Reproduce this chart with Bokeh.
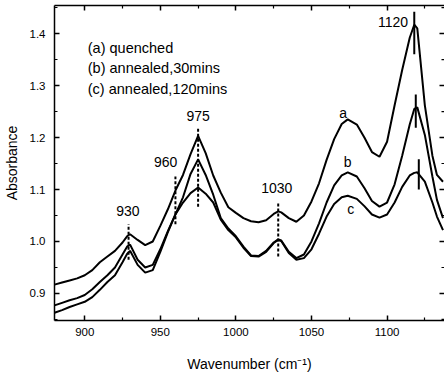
from bokeh.plotting import figure
from bokeh.models import LinearAxis, Range1d, FixedTicker, PrintfTickFormatter
from bokeh.core.properties import value
from bokeh.embed import file_html
from bokeh.resources import INLINE

# ---- data ----
wavenumber = [880, 885, 890, 895, 900, 905, 910, 915, 920, 925, 928, 930, 935, 940, 945,
              950, 955, 960, 965, 970, 975, 980, 985, 990, 995, 1000, 1005, 1010, 1015,
              1020, 1025, 1028, 1030, 1035, 1040, 1045, 1050, 1055, 1060, 1065, 1070,
              1074, 1080, 1085, 1090, 1095, 1100, 1105, 1110, 1115, 1118, 1120, 1125,
              1130, 1133, 1137]

abs_a = [0.917, 0.921, 0.925, 0.929, 0.935, 0.945, 0.960, 0.971, 0.982, 0.998, 1.010, 1.014,
         1.003, 0.993, 1.000, 1.030, 1.062, 1.098, 1.128, 1.168, 1.203, 1.170, 1.127,
         1.094, 1.066, 1.055, 1.045, 1.039, 1.037, 1.041, 1.053, 1.058, 1.056, 1.045,
         1.038, 1.050, 1.077, 1.112, 1.157, 1.197, 1.226, 1.235, 1.225, 1.200, 1.172,
         1.163, 1.192, 1.262, 1.330, 1.392, 1.417, 1.410, 1.262, 1.165, 1.128, 1.115]

abs_b = [0.877, 0.882, 0.887, 0.891, 0.897, 0.908, 0.922, 0.935, 0.950, 0.975, 0.990, 0.994,
         0.965, 0.950, 0.955, 0.985, 1.020, 1.052, 1.085, 1.130, 1.158, 1.128, 1.090,
         1.045, 1.025, 1.010, 0.990, 0.973, 0.972, 0.982, 0.998, 1.004, 1.002, 0.980,
         0.968, 0.975, 1.000, 1.035, 1.075, 1.108, 1.127, 1.133, 1.125, 1.103, 1.078,
         1.067, 1.075, 1.110, 1.165, 1.225, 1.255, 1.258, 1.205, 1.125, 1.080, 1.045]

abs_c = [0.863, 0.868, 0.874, 0.879, 0.884, 0.893, 0.907, 0.922, 0.935, 0.960, 0.976, 0.982,
         0.955, 0.940, 0.945, 0.980, 1.018, 1.052, 1.075, 1.093, 1.104, 1.092, 1.075,
         1.042, 1.022, 1.008, 0.988, 0.972, 0.971, 0.980, 0.997, 1.003, 1.001, 0.978,
         0.965, 0.968, 0.985, 1.015, 1.048, 1.072, 1.085, 1.088, 1.082, 1.068, 1.052,
         1.046, 1.052, 1.075, 1.105, 1.127, 1.132, 1.133, 1.115, 1.075, 1.048, 1.022]

x_ticks = [900, 950, 1000, 1050, 1100]
x_minor = [875, 925, 975, 1025, 1075, 1125]
y_ticks = [0.9, 1.0, 1.1, 1.2, 1.3, 1.4]
y_minor = [0.85, 0.95, 1.05, 1.15, 1.25, 1.35, 1.45]

peak_labels = ["930", "960", "975", "1030", "1120"]
peak_label_x = [928.5, 953.5, 975, 1027, 1104]
peak_label_y = [1.058, 1.152, 1.242, 1.102, 1.423]

dashed_x = [929, 960, 975, 1028]
dashed_y0 = [0.965, 1.033, 1.067, 0.971]
dashed_y1 = [1.033, 1.125, 1.219, 1.077]

solid_x = [1118, 1119, 1121]
solid_y0 = [1.360, 1.219, 1.100]
solid_y1 = [1.442, 1.283, 1.158]

curve_names = ["a", "b", "c"]
curve_name_x = [1071, 1074, 1076]
curve_name_y = [1.248, 1.152, 1.062]

legend_lines = ["(a) quenched", "(b) annealed,30mins", "(c) annealed,120mins"]
legend_y = [1.373, 1.333, 1.293]

FONT = "Liberation Sans"
X0, X1 = 880, 1138
Y0, Y1 = 0.848, 1.454
W, H = 444, 381
BL, BR, BT, BB = 54, 0, 5, 61

p = figure(width=W, height=H, x_range=Range1d(X0, X1), y_range=Range1d(Y0, Y1),
           output_backend="svg", toolbar_location=None,
           min_border_left=BL, min_border_right=BR, min_border_top=BT, min_border_bottom=BB)
p.xgrid.visible = False
p.ygrid.visible = False
p.outline_line_color = None
p.background_fill_color = "white"
p.border_fill_color = "white"

for ys in (abs_a, abs_b, abs_c):
    p.line(wavenumber, ys, line_color="black", line_width=2)

p.segment(x0=dashed_x, y0=dashed_y0, x1=dashed_x, y1=dashed_y1,
          line_color="black", line_width=2, line_dash="3 2")
p.segment(x0=solid_x, y0=solid_y0, x1=solid_x, y1=solid_y1,
          line_color="black", line_width=2)

p.text(x=peak_label_x, y=peak_label_y, text=peak_labels, text_font=value(FONT),
       text_font_size="14px", text_align="center", text_baseline="middle", text_color="black")
p.text(x=curve_name_x, y=curve_name_y, text=curve_names, text_font=value(FONT),
       text_font_size="14px", text_align="center", text_baseline="middle", text_color="black")
p.text(x=[902] * len(legend_lines), y=legend_y, text=legend_lines, text_font=value(FONT),
       text_font_size="14.5px", text_align="left", text_baseline="middle", text_color="black")

# inward ticks on the right edge
px_per_x = (W - BL - BR) / (X1 - X0)
maj_len = 5 / px_per_x
min_len = 3 / px_per_x
p.segment(x0=[X1 - maj_len] * len(y_ticks), y0=y_ticks, x1=[X1] * len(y_ticks), y1=y_ticks,
          line_color="black", line_width=1.5)
p.segment(x0=[X1 - min_len] * len(y_minor), y0=y_minor, x1=[X1] * len(y_minor), y1=y_minor,
          line_color="black", line_width=1.2)

def style(ax, labels=True):
    ax.major_tick_in = 5
    ax.major_tick_out = 0
    ax.minor_tick_in = 3
    ax.minor_tick_out = 0
    ax.axis_line_color = "black"
    ax.axis_line_width = 1.5
    ax.major_tick_line_color = "black"
    ax.minor_tick_line_color = "black"
    ax.major_tick_line_width = 1.5
    ax.minor_tick_line_width = 1.2
    if labels:
        ax.major_label_text_font = FONT
        ax.major_label_text_font_size = "11.5px"
        ax.major_label_text_color = "black"
        ax.axis_label_text_font = FONT
        ax.axis_label_text_font_style = "normal"
        ax.axis_label_text_font_size = "14px"
        ax.axis_label_text_color = "black"
    else:
        ax.formatter = PrintfTickFormatter(format="")
        ax.major_label_standoff = 0

p.xaxis.ticker = FixedTicker(ticks=x_ticks, minor_ticks=x_minor)
p.yaxis.ticker = FixedTicker(ticks=y_ticks, minor_ticks=y_minor)
p.yaxis.formatter = PrintfTickFormatter(format="%.1f")
style(p.xaxis[0])
style(p.yaxis[0])
p.xaxis.axis_label = "Wavenumber (cm\u207b\u00b9)"
p.yaxis.axis_label = "Absorbance"
p.xaxis.major_label_standoff = 7
p.xaxis.axis_label_standoff = 17
p.yaxis.major_label_standoff = 9
p.yaxis.axis_label_standoff = 7

top = LinearAxis(ticker=FixedTicker(ticks=x_ticks, minor_ticks=x_minor))
style(top, labels=False)
p.add_layout(top, "above")

open("out.html", "w").write(file_html(p, INLINE))
